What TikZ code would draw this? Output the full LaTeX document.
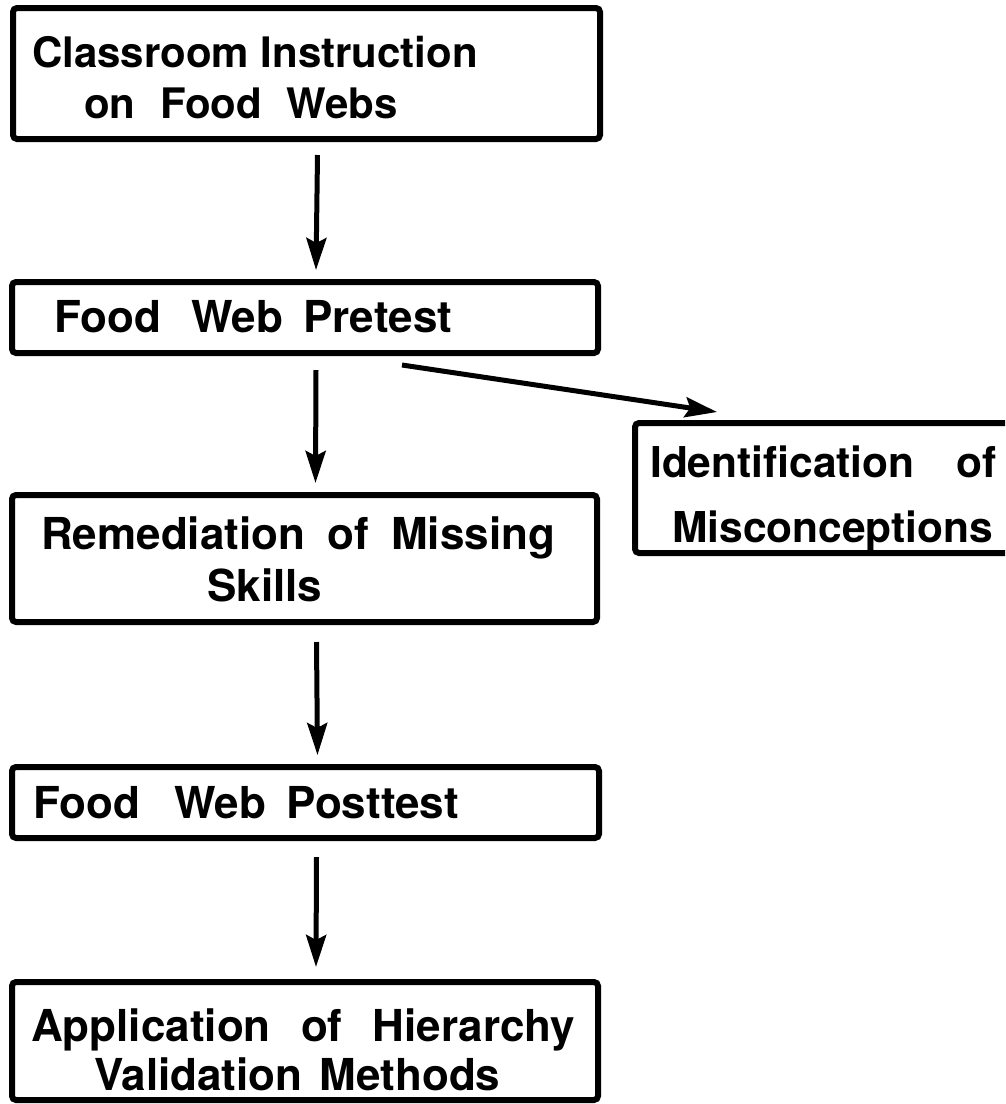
\documentclass[tikz,border=0pt]{standalone}
\usepackage{fontspec}
\setmainfont{TeX Gyre Heros}
\usetikzlibrary{arrows.meta}
\begin{document}
\begin{tikzpicture}[x=1pt,y=-1pt,
  box/.style={draw, line width=6pt, rounded corners=4pt, inner sep=0pt, outer sep=0pt},
  lbl/.style={anchor=base west, inner sep=0pt, align=left, font=\bfseries\fontsize{44}{51}\selectfont},
  arr/.style={line width=5pt, -{Stealth[length=32pt,width=20pt,inset=5pt]}}]
\useasboundingbox (0,0) rectangle (1005,1104);
\begin{scope}
\clip (0,0) rectangle (1005,1104);
\fill[white] (0,0) rectangle (1005,1104);

% boxes
\node[box, minimum width=587pt, minimum height=131pt] (A) at (306.5,73.5) {};
\node[box, minimum width=586pt, minimum height=71pt]  (B) at (305,317.5) {};
\node[box, minimum width=585pt, minimum height=127pt] (C) at (304.5,558.5) {};
\node[box, minimum width=587pt, minimum height=71pt]  (D) at (305.5,802.5) {};
\node[box, minimum width=586pt, minimum height=118pt] (E) at (305,1041) {};
\node[box, minimum width=445pt, minimum height=130pt] (F) at (857.5,488) {};

% labels (multi-line nodes are anchored at the baseline of their last line)
\node[lbl, font=\bfseries\fontsize{42}{51}\selectfont] (tA) at (32,118)
  {Classroom Instruction\\\hspace*{52pt}on\hspace{13pt} Food\hspace{13pt} Webs};
\node[lbl] (tB) at (54,332) {Food\hspace{18pt} Web\hspace{8pt} Pretest};
\node[lbl, font=\bfseries\fontsize{44}{52}\selectfont] (tC) at (41,601)
  {Remediation\hspace{10pt} of\hspace{10pt} Missing\\\hspace*{166pt}Skills};
\node[lbl] (tD) at (33,818) {Food\hspace{22pt} Web\hspace{8pt} Posttest};
\node[lbl, font=\bfseries\fontsize{44}{49}\selectfont] (tE) at (31,1090)
  {Application\hspace{18pt} of\hspace{18pt} Hierarchy\\\hspace*{63pt}Validation\hspace{5pt} Methods};
\node[lbl, font=\bfseries\fontsize{42.5}{65}\selectfont] (tF) at (650,542)
  {Identification\hspace{30pt} of\\\hspace*{22pt}Misconceptions};

% connectors
\draw[arr] ([xshift=11pt,yshift=-16pt]A.south) -- ([xshift=11pt,yshift=12pt]B.north);
\draw[arr] ([xshift=11pt,yshift=-17pt]B.south) -- ([xshift=11pt,yshift=12pt]C.north);
\draw[arr] ([xshift=12pt,yshift=-20pt]C.south) -- ([xshift=12pt,yshift=12pt]D.north);
\draw[arr] ([xshift=11pt,yshift=-19pt]D.south) -- ([xshift=11pt,yshift=15pt]E.north);
\draw[arr] ([xshift=97pt,yshift=-12pt]B.south) -- ([xshift=82pt,yshift=11pt]F.north west);
\end{scope}
\end{tikzpicture}
\end{document}
